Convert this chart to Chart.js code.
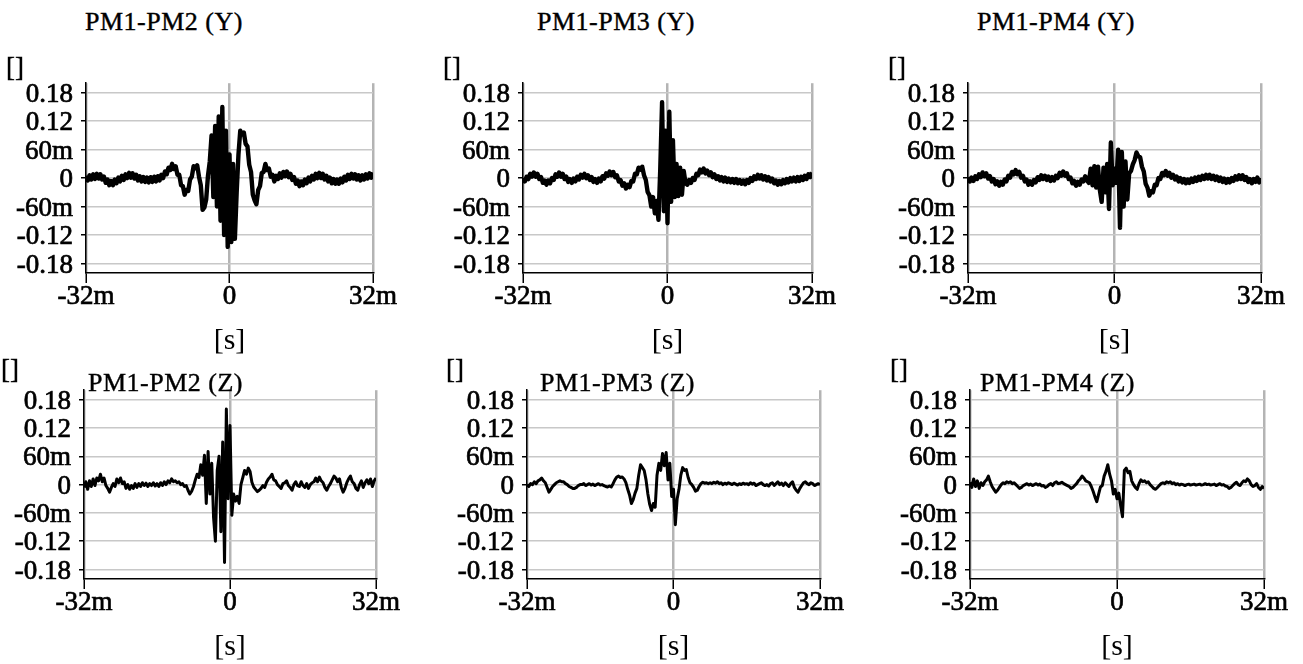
<!DOCTYPE html>
<html><head><meta charset="utf-8">
<script src="https://cdn.jsdelivr.net/npm/chart.js@4.4.0/dist/chart.umd.min.js"></script>
<style>
html,body{margin:0;padding:0;background:#fff;width:1303px;height:664px;overflow:hidden;position:relative;}
canvas{position:absolute;}
.txt{position:absolute;font-family:'Liberation Serif','Times New Roman',serif;color:#000;white-space:nowrap;line-height:1;z-index:5;-webkit-text-stroke:0.4px #000;}
.ttl{font-size:26px;letter-spacing:0.5px;}
.unit{font-size:27px;}
</style></head><body>
<script>
// ---------------- data (values in milli-units, sampled every 0.4 ms from -32 ms) ----------------
const SAMPLE_START_MS = -32;
const SAMPLE_STEP_MS = 0.4;

const X_TICKS = [-0.032, 0, 0.032];
const X_TICK_LABELS = ['-32m', '0', '32m'];
const Y_TICKS = [-0.18, -0.12, -0.06, 0, 0.06, 0.12, 0.18];
const Y_TICK_LABELS = ['-0.18', '-0.12', '-60m', '0', '60m', '0.12', '0.18'];
const X_TITLE = '[s]';
const Y_UNIT = '[]';
const TITLES = ['PM1-PM2 (Y)', 'PM1-PM3 (Y)', 'PM1-PM4 (Y)', 'PM1-PM2 (Z)', 'PM1-PM3 (Z)', 'PM1-PM4 (Z)'];

const pm12Y = [
  5,-5,6,-3,8,-2,9,-1,8,-3,
  3,-10,-3,-15,-6,-15,-3,-11,1,-7,
  5,-4,8,0,11,1,10,-1,7,-5,
  4,-7,2,-8,1,-9,2,-8,3,-7,
  4,-5,7,0,14,8,22,17,30,19,
  25,7,7,-15,-17,-35,-25,-27,-3,3,
  25,21,27,3,-15,-67,-62,-45,5,35,
  90,-40,110,-60,130,-90,150,-120,100,-145,
  50,-135,30,-128,-30,50,100,92,96,72,
  67,28,13,-35,-47,-55,-25,-17,11,13,
  30,17,20,3,7,-7,5,-2,10,1,
  13,4,14,2,9,-4,2,-12,-5,-17,
  -7,-15,-3,-11,1,-7,5,-3,9,0,
  11,0,9,-3,5,-7,1,-11,-2,-12,
  -3,-12,-1,-9,3,-5,7,-2,9,-1,
  8,-3,6,-5,6,-3,8,-1,10,1,12
];
const pm13Y = [
  0,-7,3,-2,9,3,12,3,9,-2,
  2,-10,-5,-14,-5,-11,0,-4,8,3,
  12,3,9,-2,3,-8,-2,-10,-1,-7,
  3,-3,7,1,9,0,6,-4,2,-8,
  -2,-10,-1,-7,4,-1,10,5,14,6,
  13,2,6,-7,-4,-16,-11,-22,-14,-19,
  -6,-7,9,8,22,18,24,6,-4,-29,
  -36,-60,-40,-74,-48,-88,20,160,-70,100,
  -95,140,-50,80,-40,30,-38,22,-35,15,
  -11,-14,-4,-10,0,-4,9,6,18,12,
  20,10,16,6,12,2,8,-2,4,-5,
  2,-7,1,-8,-1,-9,-2,-10,-2,-11,
  -4,-12,-5,-13,-4,-10,0,-6,4,-2,
  7,-1,6,-3,4,-5,2,-7,-1,-11,
  -5,-14,-6,-13,-4,-11,-2,-9,0,-7,
  1,-7,2,-6,3,-4,5,-2,8,2,12
];
const pm14Y = [
  2,-7,1,-6,4,-2,8,2,12,4,
  10,-1,4,-7,-2,-13,-7,-16,-8,-14,
  -3,-7,5,1,13,8,17,8,13,1,
  5,-7,-3,-14,-7,-14,-4,-9,2,-4,
  6,-2,5,-4,3,-6,2,-5,5,0,
  11,5,14,5,10,-2,1,-11,-6,-16,
  -8,-14,-3,-7,4,-5,-10,20,-15,25,
  -20,24,-25,-50,22,-30,30,-65,75,-15,
  20,-10,60,-105,55,-60,35,-45,10,15,
  29,38,54,46,44,24,14,-12,-20,-37,
  -28,-30,-14,-15,0,-2,11,6,15,5,
  11,1,7,-3,3,-7,0,-9,-2,-11,
  -3,-10,-1,-8,1,-6,3,-4,5,-2,
  7,-1,7,-2,5,-4,3,-6,1,-8,
  -1,-10,-2,-9,0,-6,4,-3,6,-2,
  6,-4,2,-8,-2,-11,-2,-8,1,-9,0
];
const pm12Z = [
  -6,6,-10,8,-4,12,-2,14,8,22,
  6,14,-2,-8,-16,-6,2,-4,12,4,
  14,2,6,-8,0,-10,-2,-8,2,-6,
  2,-4,4,-2,3,-4,2,-2,4,-3,
  2,-4,4,-2,6,0,8,4,12,6,
  8,4,6,0,2,-4,-2,-12,-20,-14,
  -4,10,22,15,42,20,62,-40,70,-20,
  45,-70,-120,30,60,-100,90,-165,160,-30,
  125,-65,-20,-35,-25,-40,0,15,30,22,
  35,28,5,-5,-10,-15,-12,-8,-2,-6,
  5,12,16,22,10,8,0,-4,-8,2,
  4,8,-2,-6,-12,0,6,-2,-4,6,
  -2,-6,2,-8,0,4,6,14,6,16,
  8,4,-6,-12,-4,2,10,18,14,6,
  12,-6,-16,-8,4,12,18,6,2,-8,
  -12,0,8,-6,4,10,2,12,-4,8,14
];
const pm13Z = [
  0,-4,2,0,6,2,8,10,14,8,
  4,-6,-16,-10,-4,0,4,6,8,6,
  6,2,0,-4,-6,-8,-8,-6,-2,0,
  0,2,-2,0,2,-1,1,-2,0,2,
  -1,0,-2,-4,-5,-3,-5,2,10,16,
  18,15,16,12,4,-10,-22,-40,-32,-18,
  -8,20,42,36,30,10,-20,-42,-55,-40,
  -48,20,45,30,66,40,68,10,45,-25,
  -10,-85,-30,-10,20,36,30,32,15,4,
  0,-6,-14,-12,-4,2,5,3,4,2,
  4,2,5,3,6,2,4,0,3,1,
  4,2,0,3,1,-1,2,0,3,1,
  2,0,4,1,3,-2,0,2,4,0,
  -2,0,-3,2,4,-2,2,6,0,3,
  -2,4,0,-4,2,6,-6,-12,-16,-8,
  -2,4,6,2,0,4,2,-2,0,2,0
];
const pm14Z = [
  5,-6,12,-4,8,-8,4,-2,6,10,
  18,6,-4,-10,-16,-12,-6,0,4,2,
  6,4,6,2,4,0,-4,-8,-6,-2,
  0,2,-1,1,-2,0,2,-1,1,-3,
  -2,-6,-4,0,2,-2,4,6,2,3,
  5,2,0,-2,-4,-8,-6,-2,2,8,
  12,18,14,8,6,4,-4,-14,-26,-36,
  -20,-5,-2,18,28,42,22,8,-20,-10,
  -30,-18,-45,-68,30,35,25,28,8,0,
  -6,-10,2,10,6,8,4,6,0,-4,
  -8,-10,-6,-2,2,4,2,6,4,6,
  2,4,0,2,-1,1,0,-2,0,1,
  -1,0,1,-1,0,1,-1,0,2,0,
  1,-1,0,1,-2,0,2,-1,0,-3,
  -4,-8,-6,-2,2,5,0,-2,4,8,
  6,12,8,0,-4,-2,2,-6,-10,-4,-8
];
const SERIES = [pm12Y, pm13Y, pm14Y, pm12Z, pm13Z, pm14Z];

// ---------------- layout (pixel geometry of each plot area) ----------------
const GEOM = [
  {L:86,  R:373,  T:83,  B:273, tx:85,  ty:9,   ux:6,   uy:54,  lw:4.4},
  {L:523, R:812,  T:83,  B:273, tx:537, ty:9,   ux:443, uy:54,  lw:4.4},
  {L:968, R:1261, T:83,  B:273, tx:977, ty:9,   ux:888, uy:54,  lw:4.4},
  {L:84,  R:376,  T:390, B:579, tx:88,  ty:370, ux:1,   uy:356, lw:3},
  {L:527, R:820,  T:390, B:579, tx:540, ty:370, ux:446, uy:356, lw:3},
  {L:970, R:1264, T:390, B:579, tx:980, ty:370, ux:890, uy:356, lw:3}
];
const WY = 80, PT = 24, PR = 36, HX = 95;
const FONT = "'Liberation Serif','Times New Roman',serif";
Chart.defaults.font.family = FONT;
Chart.defaults.font.size = 27;
Chart.defaults.color = '#000';

function addText(cls, text, x, y) {
  const d = document.createElement('div');
  d.className = 'txt ' + cls;
  d.textContent = text;
  d.style.left = x + 'px';
  d.style.top = y + 'px';
  document.body.appendChild(d);
}

SERIES.forEach((vals, k) => {
  const g = GEOM[k];
  const cv = document.createElement('canvas');
  const w = WY + (g.R - g.L) + PR;
  const h = PT + (g.B - g.T) + HX;
  cv.width = w; cv.height = h;
  cv.style.left = (g.L - WY) + 'px';
  cv.style.top = (g.T - PT) + 'px';
  cv.style.width = w + 'px'; cv.style.height = h + 'px';
  document.body.appendChild(cv);

  const pts = vals.map((v, i) => ({ x: (SAMPLE_START_MS + i * SAMPLE_STEP_MS) / 1000, y: v / 1000 }));

  new Chart(cv.getContext('2d'), {
    type: 'line',
    data: { datasets: [{ data: pts, borderColor: '#000', borderWidth: g.lw, pointRadius: 0, tension: 0, fill: false, borderJoinStyle: 'round' }] },
    options: {
      responsive: false, animation: false, devicePixelRatio: 1,
      layout: { padding: { top: PT, right: PR, bottom: 0, left: 0 } },
      plugins: { legend: { display: false }, tooltip: { enabled: false }, title: { display: false } },
      scales: {
        x: {
          type: 'linear', min: -0.032, max: 0.032,
          afterBuildTicks: s => { s.ticks = X_TICKS.map(v => ({ value: v })); },
          afterFit: s => { s.height = HX; },
          ticks: { autoSkip: false, maxRotation: 0, padding: -2, color: '#000',
                   textStrokeColor: '#000', textStrokeWidth: 0.7,
                   font: { family: FONT, size: 27 },
                   callback: (v, i) => X_TICK_LABELS[i] },
          grid: { color: '#b4b4b4', lineWidth: 2.5, drawTicks: true, tickLength: 10, tickColor: '#000', tickWidth: 1.5 },
          border: { color: '#000', width: 1.5 },
          title: { display: true, text: X_TITLE, color: '#000', font: { family: FONT, size: 30 }, padding: { top: 0, bottom: 9 } }
        },
        y: {
          type: 'linear', min: -0.2, max: 0.2,
          afterBuildTicks: s => { s.ticks = Y_TICKS.map(v => ({ value: v })); },
          afterFit: s => { s.width = WY; },
          ticks: { autoSkip: false, padding: 8, labelOffset: 2, color: '#000',
                   textStrokeColor: '#000', textStrokeWidth: 0.7,
                   font: { family: FONT, size: 27 },
                   callback: (v, i) => Y_TICK_LABELS[i] },
          grid: { color: '#c8c8c8', lineWidth: 1.5, drawTicks: true, tickLength: 5, tickColor: '#000', tickWidth: 1.5 },
          border: { color: '#000', width: 1.5 }
        }
      }
    }
  });

  addText('ttl', TITLES[k], g.tx, g.ty);
  addText('unit', Y_UNIT, g.ux, g.uy);
});
</script>
</body></html>
